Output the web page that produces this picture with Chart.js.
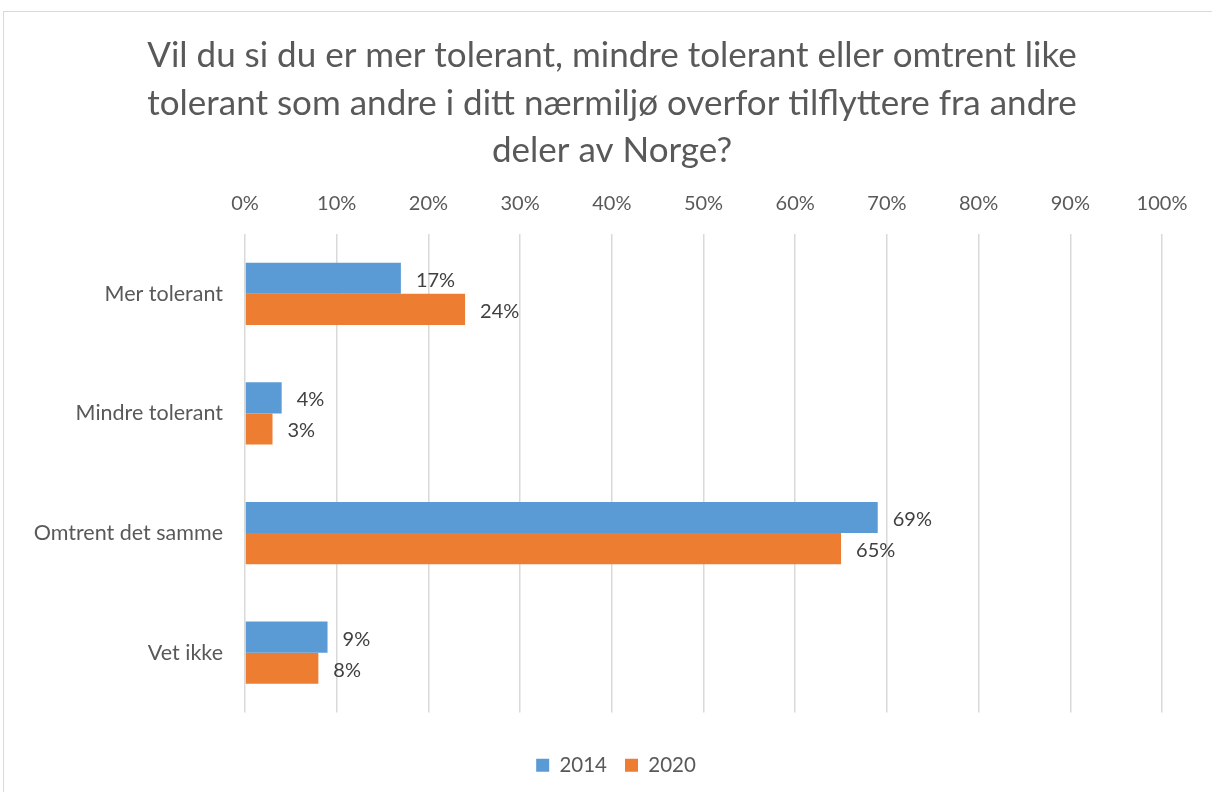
<!DOCTYPE html>
<html><head><meta charset="utf-8">
<script src="https://cdn.jsdelivr.net/npm/chart.js@4.4.1/dist/chart.umd.min.js"></script>
<style>
html,body{margin:0;padding:0;background:#fff;}
#wrap{position:relative;width:1212px;height:792px;}
#frame{position:absolute;left:3px;top:11px;width:1220px;height:800px;border:1.5px solid #d9d9d9;box-sizing:border-box;}
canvas{position:absolute;left:0;top:0;}
</style></head>
<body><div id="wrap"><div id="frame"></div><canvas id="c" width="1212" height="792"></canvas></div>
<script>
const titleLines = ['Vil du si du er mer tolerant, mindre tolerant eller omtrent like','tolerant som andre i ditt nærmiljø overfor tilflyttere fra andre','deler av Norge?'];
const categories = ['Mer tolerant','Mindre tolerant','Omtrent det samme','Vet ikke'];
const series2014 = [17,4,69,9];
const series2020 = [24,3,65,8];
const seriesNames = ['2014','2020'];
const xTicks = [0,10,20,30,40,50,60,70,80,90,100];

const FONT = 'Lato, "Open Sans", sans-serif';
const titlePlugin = {
  id:'titleP',
  afterDraw(chart){
    const ctx = chart.ctx;
    ctx.save();
    ctx.fillStyle = '#595959';
    ctx.font = '35px ' + FONT;
    ctx.textAlign = 'center';
    ctx.textBaseline = 'middle';
    const cx = 612;
    titleLines.forEach((t,i)=>ctx.fillText(t, cx, 56 + i*47.5));
    ctx.restore();
  }
};
const labelPlugin = {
  id:'labelsP',
  afterDatasetsDraw(chart){
    const ctx = chart.ctx;
    ctx.save();
    ctx.fillStyle = '#404040';
    ctx.font = '20px ' + FONT;
    ctx.textAlign = 'left';
    ctx.textBaseline = 'middle';
    chart.data.datasets.forEach((ds,di)=>{
      const meta = chart.getDatasetMeta(di);
      meta.data.forEach((bar,i)=>{
        ctx.fillText(ds.data[i] + '%', bar.x + 15, bar.y + 2);
      });
    });
    ctx.restore();
  }
};
const legendShift = {
  id:'legendShift',
  afterLayout(chart){
    if (chart.legend) { chart.legend.left += 35; chart.legend.right += 35; }
  }
};

new Chart(document.getElementById('c'), {
  type:'bar',
  data:{
    labels: categories,
    datasets:[
      {label:seriesNames[0], data:series2014, backgroundColor:'#5B9BD5', borderWidth:0, categoryPercentage:0.52, barPercentage:1},
      {label:seriesNames[1], data:series2020, backgroundColor:'#ED7D31', borderWidth:0, categoryPercentage:0.52, barPercentage:1}
    ]
  },
  options:{
    indexAxis:'y',
    responsive:false,
    animation:false,
    layout:{padding:{left:0,right:50,top:194,bottom:6.5}},
    plugins:{
      title:{display:false},
      tooltip:{enabled:false},
      legend:{
        position:'bottom',
        title:{display:true,text:' ',font:{size:10,lineHeight:1},padding:{top:0,bottom:14.5}},
        labels:{font:{size:20.5,family:FONT},color:'#595959',boxWidth:13,boxHeight:13,padding:18}
      }
    },
    scales:{
      x:{
        position:'top',
        min:0,max:100,
        afterBuildTicks(s){ s.ticks = xTicks.map(v=>({value:v})); },
        afterFit(s){ s.height = 40; },
        ticks:{callback:v=>v+'%',font:{size:20,family:FONT},color:'#595959',padding:18},
        grid:{color:'#d9d9d9',lineWidth:1.5,drawTicks:false},
        border:{display:false}
      },
      y:{
        afterFit(s){ s.width = 245; },
        ticks:{font:{size:21.5,family:FONT},color:'#595959',padding:22},
        grid:{display:false,drawTicks:false},
        border:{display:false}
      }
    }
  },
  plugins:[titlePlugin,labelPlugin,legendShift]
});
</script></body></html>
